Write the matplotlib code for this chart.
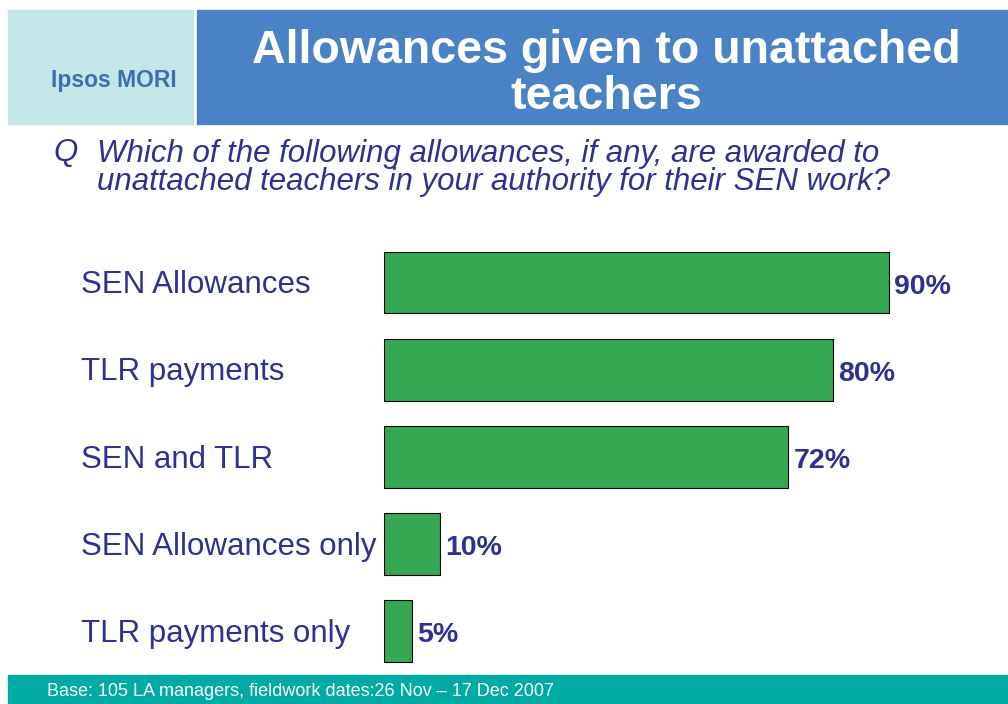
import matplotlib.pyplot as plt
import matplotlib.transforms as mtransforms
from matplotlib.patches import Rectangle

# data
categories = ['SEN Allowances', 'TLR payments', 'SEN and TLR',
              'SEN Allowances only', 'TLR payments only']
values = [90, 80, 72, 10, 5]

title = 'Allowances given to unattached\nteachers'
question = ('Which of the following allowances, if any, are awarded to\n'
            'unattached teachers in your authority for their SEN work?')
footer = 'Base: 105 LA managers, fieldwork dates:26 Nov \u2013 17 Dec 2007'

plt.rcParams['font.family'] = ['Liberation Sans', 'DejaVu Sans']

W, H = 1008, 704
fig = plt.figure(figsize=(W / 100, H / 100), dpi=100)


def fx(px):
    return px / W


def fy(py):
    return 1 - py / H


navy = '#2E3192'

# header boxes
fig.patches.append(Rectangle((fx(8), fy(124)), fx(185), (114) / H,
                             transform=fig.transFigure, color='#C3E6E8', zorder=0))
fig.patches.append(Rectangle((fx(197), fy(124)), fx(811), (114) / H,
                             transform=fig.transFigure, color='#4A83C5', zorder=0))
fig.text(fx(114), fy(80), 'Ipsos MORI', color='#3B6FB2', fontsize=16.5,
         fontweight='bold', ha='center', va='center')
fig.text(fx(606), fy(74), title, color='white', fontsize=33.5, fontweight='bold',
         ha='center', va='center', linespacing=1.08)

# question
fig.text(fx(53), fy(153), 'Q', color=navy, fontsize=22.5, style='italic',
         ha='left', va='center')
fig.text(fx(97), fy(168), question, color=navy, fontsize=22.5, style='italic',
         ha='left', va='center', linespacing=0.88)

# footer
fig.patches.append(Rectangle((fx(8), 0), fx(1000), 29 / H,
                             transform=fig.transFigure, color='#00AAA5', zorder=0))
fig.text(fx(47), fy(691), footer, color='white', fontsize=13,
         ha='left', va='center')

# bars
ax = fig.add_axes([fx(384), fy(674.6), 561 / W, (674.6 - 238.9) / H])
ax.set_facecolor('none')
pos = list(range(len(categories)))
ax.barh(pos, values, height=0.71, color='#34A853', edgecolor='black',
        linewidth=0.8)
ax.set_xlim(0, 100)
ax.set_ylim(4.5, -0.5)
ax.axis('off')

trans = mtransforms.blended_transform_factory(fig.transFigure, ax.transData)
for p, c in zip(pos, categories):
    ax.annotate(c, (fx(81), p), xycoords=trans, xytext=(0, -2),
                textcoords='offset points', color=navy, fontsize=22.5,
                ha='left', va='center', annotation_clip=False)
for p, v in zip(pos, values):
    ax.annotate(f'{v}%', (v, p), xytext=(4, -3), textcoords='offset points',
                color=navy, fontsize=20.5, fontweight='bold',
                ha='left', va='center')

fig.savefig('out.png', dpi=100)
